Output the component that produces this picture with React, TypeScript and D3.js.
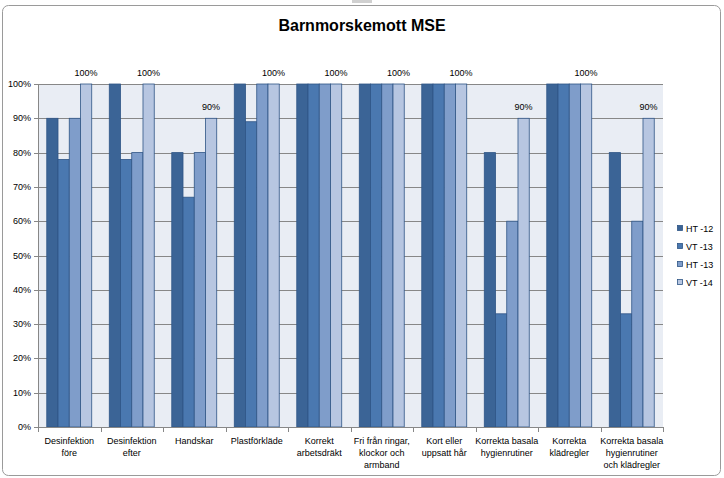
import React from "react";
import * as d3 from "d3";

const categories: string[][] = [
  ["Desinfektion", "före"],
  ["Desinfektion", "efter"],
  ["Handskar"],
  ["Plastförkläde"],
  ["Korrekt", "arbetsdräkt"],
  ["Fri från ringar,", "klockor och", "armband"],
  ["Kort eller", "uppsatt hår"],
  ["Korrekta basala", "hygienrutiner"],
  ["Korrekta", "klädregler"],
  ["Korrekta basala", "hygienrutiner", "och klädregler"],
];
const seriesNames = ["HT -12", "VT -13", "HT -13", "VT -14"];
const ht12 = [90, 100, 80, 100, 100, 100, 100, 80, 100, 80];
const vt13 = [78, 78, 67, 89, 100, 100, 100, 33, 100, 33];
const ht13 = [90, 80, 80, 100, 100, 100, 100, 60, 100, 60];
const vt14 = [100, 100, 90, 100, 100, 100, 100, 90, 100, 90];
const yTicks = [0, 10, 20, 30, 40, 50, 60, 70, 80, 90, 100];

const colors = ["#3b6496", "#4a78b0", "#7f9dca", "#b7c6e1"];
const W = 724;
const H = 478;
const font = "'Liberation Sans', Arial, sans-serif";

export default function App() {
  const series = [ht12, vt13, ht13, vt14];
  const left = 38, right = 663, top = 84, bottom = 427;
  const x = d3.scaleBand<number>().domain(d3.range(categories.length)).range([left, right]).paddingInner(0).paddingOuter(0);
  const y = d3.scaleLinear().domain([0, 100]).range([bottom, top]);
  const bw = x.bandwidth();
  const inner = d3.scaleBand<number>().domain(d3.range(4)).range([0, bw]).paddingOuter(0.78).paddingInner(0);

  return (
    <svg width={W} height={H} style={{ position: "absolute", left: 0, top: 0 }} fontFamily={font}>
      <rect x={0} y={0} width={W} height={H} fill="#ffffff" />
      <rect x={2.5} y={5.5} width={718} height={470} rx={6} fill="#ffffff" stroke="#9a9a9a" strokeWidth={1} />
      <rect x={352} y={0} width={20} height={3} fill="#d0d0d0" />
      <text x={362} y={31} textAnchor="middle" fontSize={16} fontWeight="bold" fill="#000">Barnmorskemott MSE</text>

      <rect x={left} y={top} width={right - left} height={bottom - top} fill="#e9edf4" />
      {yTicks.map((t) => (
        <g key={t}>
          <line x1={left - 4} x2={right} y1={Math.round(y(t)) + 0.5} y2={Math.round(y(t)) + 0.5} stroke="#878787" strokeWidth={1} />
          <text x={31} y={y(t) + 3} textAnchor="end" fontSize={9} fill="#000">{t}%</text>
        </g>
      ))}

      {categories.map((c, i) => (
        <g key={i}>
          {series.map((s, j) => (
            <rect
              key={j}
              x={(x(i) as number) + (inner(j) as number)}
              y={y(s[i])}
              width={inner.bandwidth()}
              height={y(0) - y(s[i])}
              fill={colors[j]}
              stroke="#2f5586"
              strokeWidth={0.8}
            />
          ))}
          <text
            x={(x(i) as number) + (inner(3) as number) + inner.bandwidth() / 2}
            y={y(vt14[i]) - 8}
            textAnchor="middle"
            fontSize={9}
            fill="#000"
          >
            {vt14[i]}%
          </text>
          {c.map((line, k) => (
            <text key={k} x={(x(i) as number) + bw / 2} y={444 + k * 12} textAnchor="middle" fontSize={9} fill="#000">
              {line}
            </text>
          ))}
        </g>
      ))}

      <line x1={left + 0.5} x2={left + 0.5} y1={top} y2={bottom} stroke="#878787" />
      <line x1={left} x2={right} y1={Math.round(y(0)) + 0.5} y2={Math.round(y(0)) + 0.5} stroke="#878787" />
      {d3.range(categories.length + 1).map((i) => {
        const xx = Math.round(left + i * bw) + 0.5;
        return <line key={i} x1={xx} x2={xx} y1={bottom} y2={bottom + 5} stroke="#878787" />;
      })}

      {seriesNames.map((n, j) => (
        <g key={n}>
          <rect x={677.5} y={225.5 + j * 18} width={5} height={5} fill={colors[j]} stroke="#2f5586" strokeWidth={0.8} />
          <text x={686} y={231.5 + j * 18} fontSize={9} fill="#000">{n}</text>
        </g>
      ))}
    </svg>
  );
}
